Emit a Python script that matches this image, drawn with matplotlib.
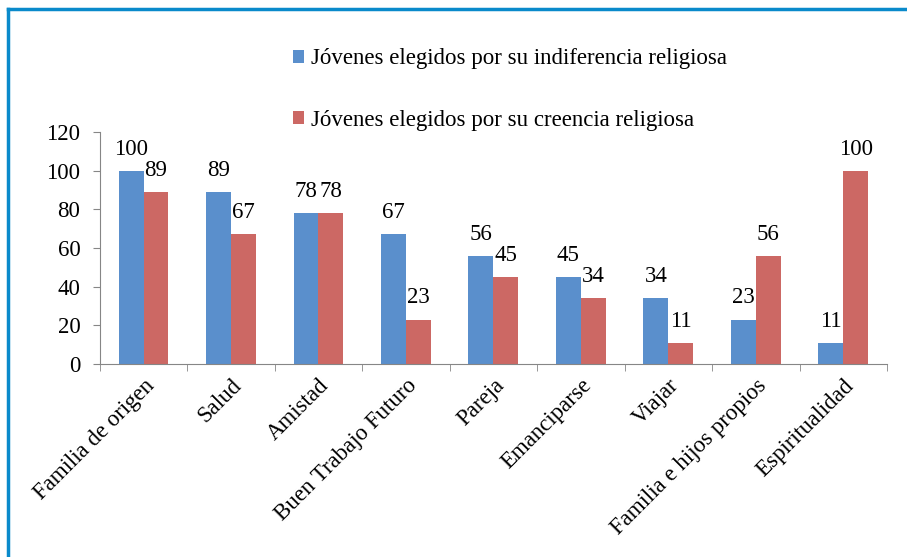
import matplotlib
matplotlib.use("Agg")
import matplotlib.pyplot as plt
from matplotlib.lines import Line2D
import numpy as np

plt.rcParams['font.family'] = 'serif'
plt.rcParams['font.serif'] = ['Liberation Serif', 'DejaVu Serif']

categories = ['Familia de origen', 'Salud', 'Amistad', 'Buen Trabajo Futuro', 'Pareja',
              'Emanciparse', 'Viajar', 'Familia e hijos propios', 'Espiritualidad']
indiferencia = [100, 89, 78, 67, 56, 45, 34, 23, 11]
creencia = [89, 67, 78, 23, 45, 34, 11, 56, 100]
labels = ['Jóvenes elegidos por su indiferencia religiosa',
          'Jóvenes elegidos por su creencia religiosa']

blue = '#5A8FCC'
red = '#CC6864'
grey = '#868686'
fs = 16.5

fig = plt.figure(figsize=(9.07, 5.57), dpi=100)
ax = fig.add_axes([0.110, 0.3465, 0.868, 0.4165])

x = np.arange(len(categories))
width = 0.285
b1 = ax.bar(x - width/2, indiferencia, width, color=blue, label=labels[0])
b2 = ax.bar(x + width/2, creencia, width, color=red, label=labels[1])

ax.bar_label(b1, padding=8, fontsize=fs)
ax.bar_label(b2, padding=8, fontsize=fs)

ax.set_xlim(-0.5, len(categories) - 0.5)
ax.set_ylim(0, 120)
ax.set_yticks(range(0, 121, 20))
ax.tick_params(axis='y', labelsize=fs, color=grey, length=5, pad=9, direction='out')

# category labels at centres, tick marks at boundaries
ax.set_xticks(x)
ax.set_xticklabels(categories, rotation=45, ha='right', rotation_mode='anchor', fontsize=fs)
ax.tick_params(axis='x', which='major', length=0, pad=8)
ax.set_xticks(np.arange(-0.5, len(categories)), minor=True)
ax.tick_params(axis='x', which='minor', length=5, color=grey, direction='out')

for s in ['top', 'right']:
    ax.spines[s].set_visible(False)
for s in ['left', 'bottom']:
    ax.spines[s].set_color(grey)

fig.legend(handles=[b1, b2], loc='upper left', bbox_to_anchor=(0.30, 0.95),
           frameon=False, fontsize=fs, handlelength=0.5, handleheight=0.5,
           handletextpad=0.3, labelspacing=1.75)

# outer frame (only top and left edges visible)
fig.add_artist(Line2D([8/907, 1], [1 - 9/557, 1 - 9/557], color='#0A8ACB', lw=2.5,
                      transform=fig.transFigure))
fig.add_artist(Line2D([8/907, 8/907], [0, 1 - 9/557], color='#0A8ACB', lw=2.5,
                      transform=fig.transFigure))

fig.savefig('out.png', dpi=100)
